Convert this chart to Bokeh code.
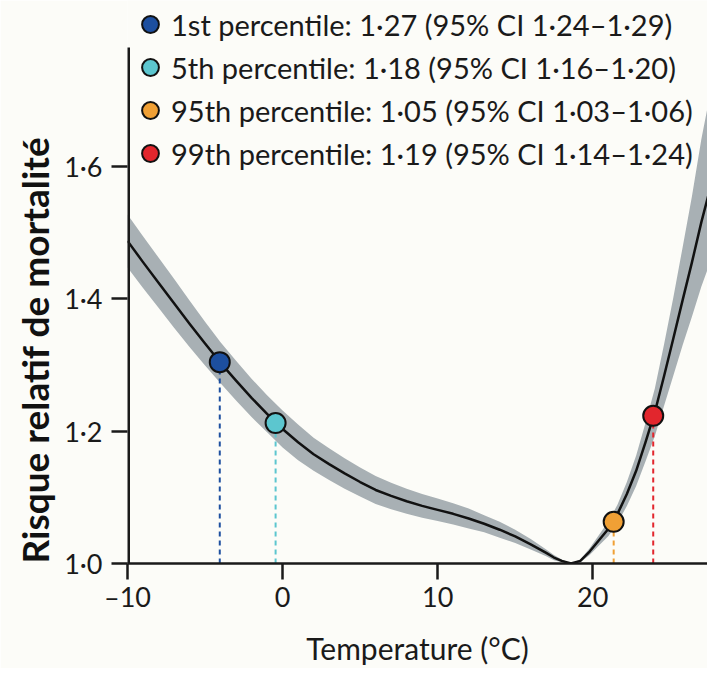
from bokeh.plotting import figure
from bokeh.models import Range1d, FixedTicker, Legend, LegendItem, Title
from bokeh.embed import file_html
from bokeh.resources import INLINE

# ---- data ----
temp = [-10, -9, -8, -7, -6, -5, -4, -3, -2, -1, 0, 1, 2, 3, 4, 5, 6, 7, 8, 9, 10,
        11, 12, 13, 14, 15, 16, 17, 17.5, 18, 18.6, 19.2, 19.8, 20.4, 21, 21.6,
        22.2, 22.8, 23.4, 24, 24.6, 25.2, 25.8, 26.4, 27, 27.5]
rr = [1.487, 1.455, 1.424, 1.393, 1.362, 1.332, 1.303, 1.276, 1.250, 1.226, 1.203,
      1.183, 1.165, 1.150, 1.136, 1.123, 1.111, 1.102, 1.094, 1.087, 1.081,
      1.075, 1.068, 1.060, 1.051, 1.041, 1.029, 1.016, 1.009, 1.004, 1.000,
      1.004, 1.018, 1.035, 1.052, 1.075, 1.105, 1.140, 1.183, 1.228, 1.283,
      1.340, 1.398, 1.455, 1.515, 1.560]
rr_lo = [1.447, 1.416, 1.386, 1.356, 1.327, 1.299, 1.272, 1.246, 1.221, 1.198, 1.175,
         1.156, 1.140, 1.126, 1.113, 1.101, 1.090, 1.082, 1.075, 1.069, 1.064,
         1.059, 1.053, 1.047, 1.039, 1.031, 1.021, 1.011, 1.005, 1.002, 1.000,
         1.002, 1.013, 1.027, 1.041, 1.061, 1.087, 1.117, 1.154, 1.192, 1.238,
         1.284, 1.330, 1.373, 1.418, 1.450]
rr_hi = [1.527, 1.494, 1.462, 1.430, 1.397, 1.365, 1.334, 1.306, 1.279, 1.254, 1.231,
         1.210, 1.190, 1.174, 1.159, 1.145, 1.132, 1.122, 1.113, 1.105, 1.098,
         1.091, 1.083, 1.073, 1.063, 1.051, 1.037, 1.021, 1.013, 1.006, 1.000,
         1.006, 1.023, 1.043, 1.063, 1.089, 1.123, 1.163, 1.212, 1.264, 1.331,
         1.402, 1.478, 1.555, 1.640, 1.700]

pct_labels = ["1st percentile: 1·27 (95% CI 1·24–1·29)",
              "5th percentile: 1·18 (95% CI 1·16–1·20)",
              "95th percentile: 1·05 (95% CI 1·03–1·06)",
              "99th percentile: 1·19 (95% CI 1·14–1·24)"]
pct_x = [-4.05, -0.45, 21.35, 23.9]
pct_y = [1.304, 1.212, 1.063, 1.223]
pct_colors = ["#1d4f9f", "#5cc6cf", "#f0a035", "#e2262d"]

x_ticks = [-10, 0, 10, 20]
x_tick_labels = ["–10", "0", "10", "20"]
y_ticks = [1.0, 1.2, 1.4, 1.6]
y_tick_labels = ["1·0", "1·2", "1·4", "1·6"]

x_start, x_end = -10, 27.4
y_start, y_end = 1.0, 1.85
y_axis_top = 1.779   # where the drawn y-axis line stops

FONT = "Lato"
BG = "#fcfcf8"
INK = "#1a1a1a"

p = figure(width=707, height=668, output_backend="svg", toolbar_location=None,
           x_range=Range1d(x_start, x_end), y_range=Range1d(y_start, y_end),
           min_border_left=127, min_border_right=0, min_border_top=0, min_border_bottom=105)
p.background_fill_color = BG
p.border_fill_color = BG
p.outline_line_color = None
p.grid.visible = False

# CI band and curve
p.varea(x=temp, y1=rr_lo, y2=rr_hi, color="#a8b0b4")
p.line(x=temp, y=rr, line_color="#111111", line_width=2.5, line_join="round")

# dashed drop lines
p.segment(x0=pct_x, y0=[y_start] * len(pct_x), x1=pct_x, y1=pct_y,
          line_color=pct_colors, line_width=2, line_dash="5 4")

# y-axis line that stops below the legend (the frame runs higher to hold the legend)
p.line(x=[x_start, x_start], y=[y_start, y_axis_top], line_color=INK, line_width=5)

items = []
for lab, xx, yy, c in zip(pct_labels, pct_x, pct_y, pct_colors):
    r = p.scatter(x=[xx], y=[yy], size=20, fill_color=c, line_color="#111111", line_width=2)
    items.append(LegendItem(label=lab, renderers=[r]))

legend = Legend(items=items, location=(2, 389), glyph_width=42, glyph_height=42,
                label_height=42, spacing=1, padding=0, margin=0, label_standoff=-7,
                border_line_color=None, background_fill_alpha=0,
                label_text_font=FONT, label_text_font_size="29px", label_text_color=INK)
p.add_layout(legend, "center")

# axes
for ax in (p.xaxis[0], p.yaxis[0]):
    ax.axis_line_color = INK
    ax.axis_line_width = 2.5
    ax.major_tick_line_color = INK
    ax.major_tick_line_width = 2.5
    ax.major_tick_in = 0
    ax.major_tick_out = 16
    ax.minor_tick_line_color = None
    ax.major_label_text_font = FONT
    ax.major_label_text_font_size = "27px"
    ax.major_label_text_color = INK
p.yaxis.axis_line_color = None

p.xaxis.ticker = FixedTicker(ticks=x_ticks)
p.xaxis.major_label_overrides = dict(zip(x_ticks, x_tick_labels))
p.xaxis.major_label_standoff = 0
p.xaxis.axis_label = "Temperature (°C)"
p.xaxis.axis_label_text_font = FONT
p.xaxis.axis_label_text_font_size = "30px"
p.xaxis.axis_label_text_font_style = "normal"
p.xaxis.axis_label_text_color = INK
p.xaxis.axis_label_standoff = 14

p.yaxis.ticker = FixedTicker(ticks=y_ticks)
p.yaxis.major_label_overrides = dict(zip(y_ticks, y_tick_labels))
p.yaxis.major_label_standoff = 9

ytitle = Title(text="Risque relatif de mortalité", align="left", offset=0,
               text_font=FONT, text_font_size="37px", text_font_style="bold",
               text_color="#111111")
p.add_layout(ytitle, "left")

open("out.html", "w").write(file_html(p, INLINE))
